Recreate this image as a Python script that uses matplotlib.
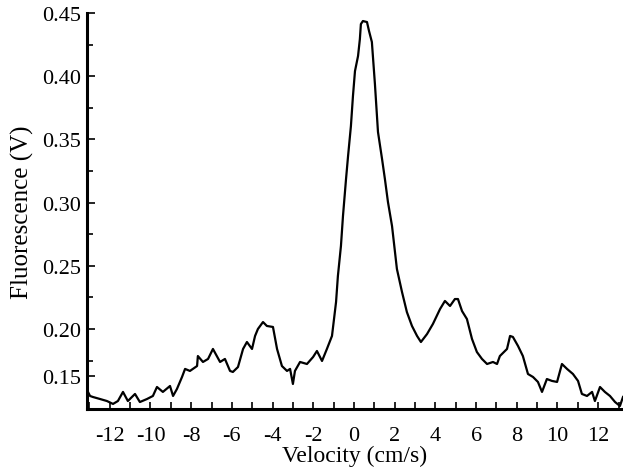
import numpy as np
import matplotlib
matplotlib.use("Agg")
import matplotlib.pyplot as plt
from matplotlib.ticker import FixedLocator

# velocity (cm/s) and fluorescence (V)
velocity = [
    -13.12, -13.07, -12.97, -12.83, -12.48, -12.14, -11.84, -11.60, -11.35, -11.11,
    -10.76, -10.52, -10.17, -9.88, -9.68, -9.39, -9.04, -8.89, -8.70, -8.45,
    -8.30, -8.06, -7.71, -7.67, -7.42, -7.17, -6.93, -6.58, -6.34, -6.09,
    -5.95, -5.70, -5.45, -5.26, -5.01, -4.86, -4.72, -4.47, -4.28, -3.98,
    -3.78, -3.54, -3.29, -3.14, -3.00, -2.90, -2.65, -2.31, -2.01, -1.82,
    -1.57, -1.33, -1.08, -0.88, -0.79, -0.64, -0.54, -0.39, -0.29, -0.15,
    -0.05, 0.05, 0.20, 0.29, 0.34, 0.44, 0.64, 0.74, 0.88, 1.03,
    1.18, 1.38, 1.52, 1.67, 1.87, 2.11, 2.36, 2.60, 2.85, 3.10,
    3.29, 3.59, 3.88, 4.23, 4.47, 4.72, 4.96, 5.11, 5.31, 5.55,
    5.80, 6.04, 6.29, 6.54, 6.83, 7.03, 7.17, 7.52, 7.67, 7.81,
    8.06, 8.30, 8.55, 8.80, 9.04, 9.24, 9.48, 9.73, 9.98, 10.22,
    10.47, 10.76, 11.01, 11.20, 11.45, 11.70, 11.84, 12.09, 12.33, 12.58,
    12.83, 13.07, 13.22,
]
fluorescence = [
    0.1549, 0.1502, 0.1470, 0.1462, 0.1446, 0.1430, 0.1407, 0.1430, 0.1502, 0.1430,
    0.1486, 0.1422, 0.1446, 0.1470, 0.1541, 0.1502, 0.1549, 0.1470, 0.1525, 0.1620,
    0.1684, 0.1668, 0.1707, 0.1786, 0.1739, 0.1763, 0.1842, 0.1739, 0.1763, 0.1668,
    0.1660, 0.1699, 0.1842, 0.1897, 0.1842, 0.1945, 0.2000, 0.2055, 0.2024, 0.2016,
    0.1842, 0.1707, 0.1668, 0.1684, 0.1565, 0.1668, 0.1739, 0.1723, 0.1778, 0.1826,
    0.1747, 0.1842, 0.1945, 0.2214, 0.2419, 0.2657, 0.2894, 0.3187, 0.3369, 0.3606,
    0.3843, 0.4041, 0.4160, 0.4294, 0.4413, 0.4437, 0.4429, 0.4358, 0.4271, 0.3938,
    0.3559, 0.3345, 0.3187, 0.3005, 0.2815, 0.2475, 0.2293, 0.2134, 0.2024, 0.1945,
    0.1897, 0.1960, 0.2040, 0.2158, 0.2222, 0.2182, 0.2237, 0.2237, 0.2142, 0.2079,
    0.1921, 0.1818, 0.1763, 0.1723, 0.1739, 0.1723, 0.1786, 0.1842, 0.1945, 0.1937,
    0.1866, 0.1786, 0.1644, 0.1620, 0.1581, 0.1502, 0.1604, 0.1589, 0.1581, 0.1723,
    0.1684, 0.1644, 0.1589, 0.1486, 0.1470, 0.1502, 0.1430, 0.1541, 0.1502, 0.1470,
    0.1422, 0.1391, 0.1462,
]

# y tick positions as drawn in the reference (the "0.15" mark sits a bit high there)
y_tick_pos = [0.1625, 0.20, 0.25, 0.30, 0.35, 0.40, 0.45]
y_tick_labels = ["0.15", "0.20", "0.25", "0.30", "0.35", "0.40", "0.45"]
y_minor_pos = [0.175, 0.225, 0.275, 0.325, 0.375, 0.425]
x_tick_pos = [-12, -10, -8, -6, -4, -2, 0, 2, 4, 6, 8, 10, 12]

plt.rcParams["font.family"] = ["Liberation Serif", "DejaVu Serif"]

fig = plt.figure(figsize=(6.23, 4.77), dpi=100)
ax = fig.add_axes([0.1396, 0.1405, 0.8604, 0.830])

ax.plot(velocity, fluorescence, color="black", linewidth=1.6)

ax.set_xlim(-13.12, 13.22)
ax.set_ylim(0.1367, 0.45)

ax.spines["top"].set_visible(False)
ax.spines["right"].set_visible(False)
ax.spines["left"].set_linewidth(2.2)
ax.spines["bottom"].set_linewidth(2.2)

ax.xaxis.set_major_locator(FixedLocator(x_tick_pos))
ax.xaxis.set_minor_locator(FixedLocator(np.arange(-13, 14, 1)))
ax.set_xticklabels([str(v) for v in x_tick_pos])
ax.yaxis.set_major_locator(FixedLocator(y_tick_pos))
ax.yaxis.set_minor_locator(FixedLocator(y_minor_pos))
ax.set_yticklabels(y_tick_labels)

ax.tick_params(axis="x", which="both", direction="in", length=5, width=1.2,
               labelsize=16, pad=12)
ax.tick_params(axis="y", which="major", direction="in", length=6, width=1.2,
               labelsize=16, pad=4)
ax.tick_params(axis="y", which="minor", direction="in", length=4, width=1.2)

ax.set_xlabel("Velocity (cm/s)", fontsize=17, labelpad=0)
ax.set_ylabel("Fluorescence (V)", fontsize=18, labelpad=6)

fig.savefig("out.png", dpi=100)
